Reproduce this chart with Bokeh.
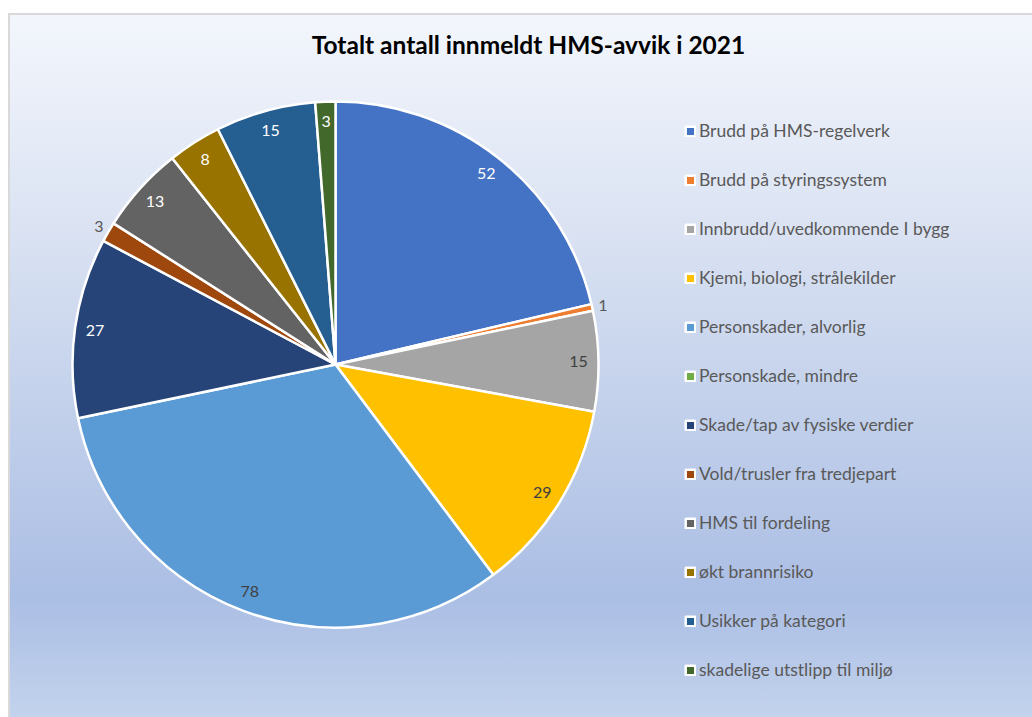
import math
import pandas as pd
from bokeh.plotting import figure
from bokeh.models import Range1d, Label, ColumnDataSource
from bokeh.embed import file_html
from bokeh.resources import INLINE

# ---- data ----
categories = [
    "Brudd på HMS-regelverk",
    "Brudd på styringssystem",
    "Innbrudd/uvedkommende I bygg",
    "Kjemi, biologi, strålekilder",
    "Personskader, alvorlig",
    "Personskade, mindre",
    "Skade/tap av fysiske verdier",
    "Vold/trusler fra tredjepart",
    "HMS til fordeling",
    "økt brannrisiko",
    "Usikker på kategori",
    "skadelige utstlipp til miljø",
]
counts = [52, 1, 15, 29, 78, 0, 27, 3, 13, 8, 15, 3]
colors = ["#4472C4", "#ED7D31", "#A5A5A5", "#FFC000", "#5B9BD5", "#70AD47",
          "#264478", "#9E480E", "#636363", "#997300", "#255E91", "#43682B"]
title_text = "Totalt antall innmeldt HMS-avvik i 2021"

# styling of data labels
light_label_on = {"Brudd på HMS-regelverk", "Skade/tap av fysiske verdier", "HMS til fordeling",
                  "økt brannrisiko", "Usikker på kategori", "skadelige utstlipp til miljø"}
outside_label = {"Brudd på styringssystem", "Vold/trusler fra tredjepart"}

W, H = 1024, 704
CX, CY = 325, 355      # pie centre (screen px inside frame, y from bottom)
R = 263

df = pd.DataFrame({"cat": categories, "val": counts, "color": colors})
total = df["val"].sum()
frac = df["val"] / total
cum_end = frac.cumsum()
cum_start = cum_end - frac
df["start"] = math.pi / 2 - cum_start * 2 * math.pi
df["end"] = math.pi / 2 - cum_end * 2 * math.pi
df["rad"] = [R if v > 0 else 0 for v in df["val"]]   # empty categories draw nothing
mid = (cum_start + frac / 2) * 2 * math.pi
lab_r = [274 if c in outside_label else 243 for c in df["cat"]]
df["lx"] = [CX + r * math.sin(m) for r, m in zip(lab_r, mid)]
df["ly"] = [CY + r * math.cos(m) for r, m in zip(lab_r, mid)]
df["ltxt"] = [str(v) for v in df["val"]]
df["lcol"] = ["#595959" if c in outside_label else ("#ffffff" if c in light_label_on else "#404040")
              for c in df["cat"]]

src = ColumnDataSource(df)
lab_src = ColumnDataSource(df[df["val"] > 0])

p = figure(width=W, height=H, output_backend="svg", toolbar_location=None,
           x_range=Range1d(0, W), y_range=Range1d(0, H),
           min_border=0, outline_line_color=None)
p.axis.visible = False
p.grid.visible = False
p.background_fill_alpha = 0
p.border_fill_alpha = 0
p.margin = (13, 0, 0, 8)
p.styles = {
    "background": "linear-gradient(to bottom, #f3f6fc 0%, #dbe3f3 30%, #c3d1eb 55%, #abbee4 83%, #c3d3ed 100%)",
    "border-top": "2px solid #d9d9d9",
    "border-left": "2px solid #d9d9d9",
    "box-sizing": "border-box",
}

r = p.wedge(x=CX, y=CY, radius="rad", radius_units="screen",
            start_angle="start", end_angle="end", direction="clock",
            fill_color="color", line_color="white", line_width=2.5,
            source=src, legend_field="cat")

p.text(x="lx", y="ly", text="ltxt", source=lab_src, text_color="lcol",
       text_align="center", text_baseline="middle", text_font_size="16px",
       text_font={"value": "Lato"})

p.add_layout(Label(x=W / 2 + 6, y=H - 29.3, x_units="screen", y_units="screen",
                   text=title_text, text_align="center", text_baseline="middle",
                   text_font="Lato", text_font_style="bold", text_font_size="24.5px",
                   text_color="#000000"))

leg = p.legend[0]
leg.location = (674, 39)
leg.background_fill_alpha = 0
leg.border_line_color = None
leg.padding = 0
leg.margin = 0
leg.glyph_width = 12
leg.glyph_height = 12
leg.label_height = 20
leg.spacing = 28
leg.label_standoff = 3
leg.label_text_font = "Lato"
leg.label_text_font_size = "17.5px"
leg.label_text_color = "#595959"

open("out.html", "w").write(file_html(p, INLINE))
